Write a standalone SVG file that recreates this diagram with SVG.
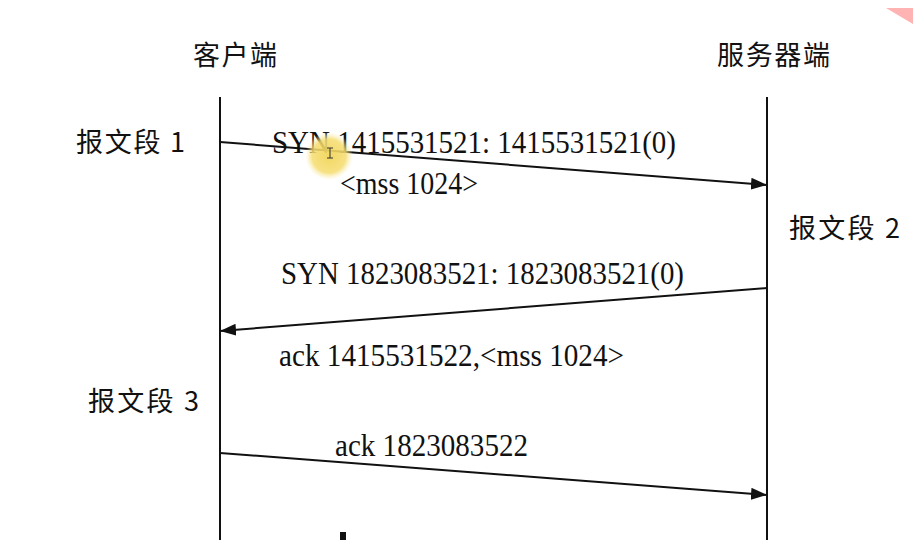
<svg xmlns="http://www.w3.org/2000/svg" width="913" height="540" viewBox="0 0 913 540">
<style>
.t{font-family:"Liberation Serif","Noto Sans CJK SC",serif;font-size:31px;fill:#111}
.c{font-family:"Noto Sans CJK SC","Liberation Serif",sans-serif;font-size:27px;fill:#111}
.life{stroke:#111;stroke-width:2;fill:none}
.msg{stroke:#111;stroke-width:2;fill:none;marker-end:url(#ah)}
</style>
<defs>
<marker id="ah" viewBox="0 0 16 12" refX="16" refY="6" markerWidth="16" markerHeight="12" markerUnits="userSpaceOnUse" orient="auto">
<path d="M0,0 L16,6 L0,12 Z" fill="#111"/>
</marker>
<radialGradient id="glow">
<stop offset="0" stop-color="#f2d55a" stop-opacity="0.95"/>
<stop offset="0.7" stop-color="#f5dc6e" stop-opacity="0.85"/>
<stop offset="1" stop-color="#fbeeb0" stop-opacity="0"/>
</radialGradient>
</defs>
<rect width="913" height="540" fill="#fff"/>
<polygon points="886,8 913,8 913,24" fill="#ffb3b3"/>
<g id="client">
<line class="life" x1="220" y1="97" x2="220" y2="540"/>
<text class="c" x="193" y="65" textLength="84">客户端</text>
</g>
<g id="server">
<line class="life" x1="767" y1="97" x2="767" y2="540"/>
<text class="c" x="717" y="65" textLength="113">服务器端</text>
</g>
<g id="labels">
<text class="c" x="76" y="152" textLength="109">报文段 1</text>
<text class="c" x="789" y="238" textLength="111">报文段 2</text>
<text class="c" x="88" y="411" textLength="111">报文段 3</text>
</g>
<g id="connectors">
<line class="msg" x1="220" y1="142" x2="767" y2="185"/>
<line class="msg" x1="767" y1="288" x2="220" y2="331"/>
<line class="msg" x1="220" y1="453" x2="767" y2="495"/>
</g>
<g id="msgtext">
<text class="t" x="272" y="153" textLength="404" lengthAdjust="spacingAndGlyphs">SYN 1415531521: 1415531521(0)</text>
<text class="t" x="340" y="194" textLength="138" lengthAdjust="spacingAndGlyphs">&lt;mss 1024&gt;</text>
<text class="t" x="281" y="284" textLength="403" lengthAdjust="spacingAndGlyphs">SYN 1823083521: 1823083521(0)</text>
<text class="t" x="279" y="366" textLength="345" lengthAdjust="spacingAndGlyphs">ack 1415531522,&lt;mss 1024&gt;</text>
<text class="t" x="335" y="456" textLength="193" lengthAdjust="spacingAndGlyphs">ack 1823083522</text>
</g>
<circle cx="329" cy="156" r="24" fill="url(#glow)"/>
<path d="M327,148 h6 M330,148 v10 M327,158 h6" stroke="#333" stroke-width="1" fill="none"/>
<rect x="340" y="532" width="6" height="8" fill="#111"/>
</svg>
